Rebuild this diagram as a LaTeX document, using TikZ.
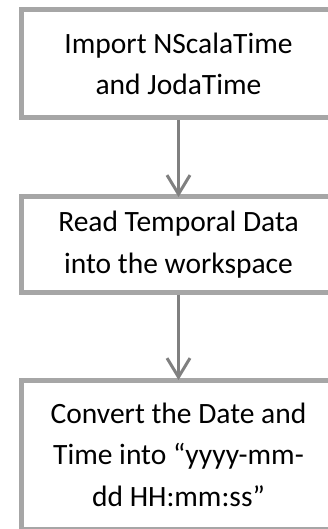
\documentclass[tikz,border=0pt]{standalone}
\usepackage{fontspec}
\setmainfont{Carlito}
\usetikzlibrary{arrows.meta}
\definecolor{boxgray}{RGB}{166,166,166}
\definecolor{arrowgray}{RGB}{128,128,128}
\tikzset{
  stepbox/.style={draw=boxgray, line width=5pt, fill=white, rectangle,
    minimum width=315pt, inner sep=0pt, align=center,
    font=\fontsize{29.5pt}{41.5pt}\selectfont},
  flow/.style={draw=arrowgray, line width=3.5pt, shorten >=-2.5pt,
    -{Straight Barb[length=19pt,width=23pt,line width=3pt]}}
}
\begin{document}
\begin{tikzpicture}[x=1pt,y=-1pt]
\clip (0,0) rectangle (328,529);
\node[stepbox, minimum height=107.5pt] (b1) at (178.5,63.75) {Import NScalaTime\\and JodaTime};
\node[stepbox, minimum height=95pt] (b2) at (178.5,244.5) {Read Temporal Data\\into the workspace};
\node[stepbox, minimum height=149pt] (b3) at (178.5,454.5) {Convert the Date and\\Time into “yyyy-mm-\\dd HH:mm:ss”};
\draw[flow] (b1.south) -- (b2.north);
\draw[flow] (b2.south) -- (b3.north);
\end{tikzpicture}
\end{document}
